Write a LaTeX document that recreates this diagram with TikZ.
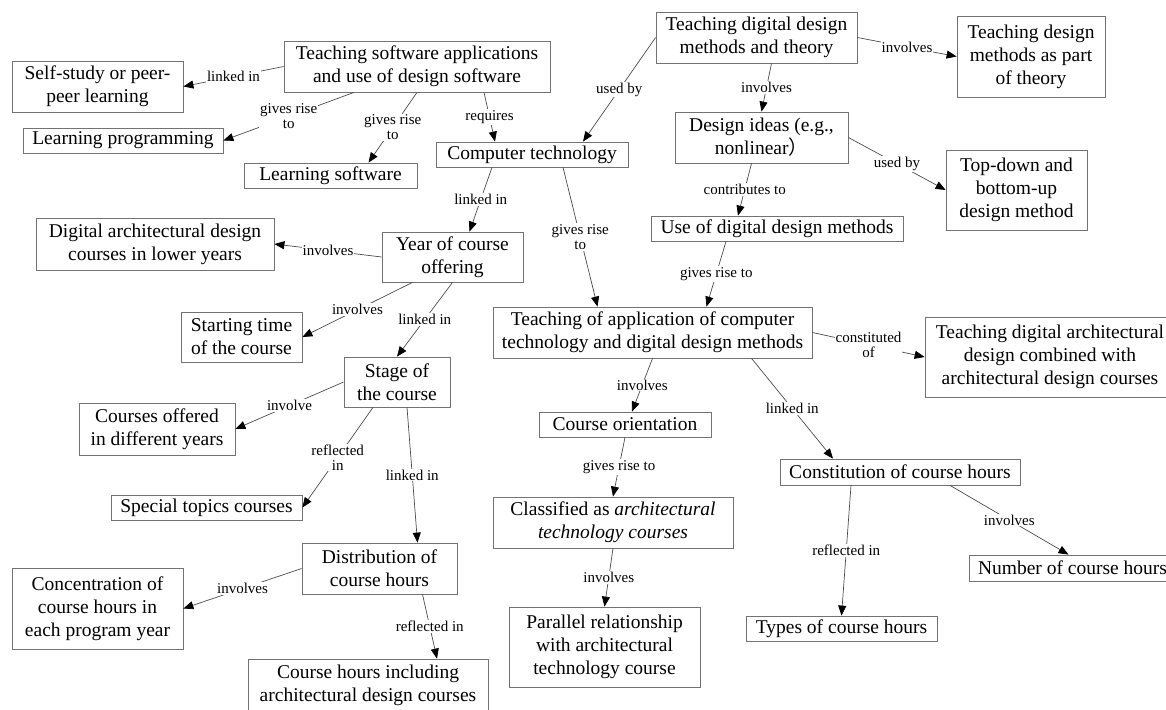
\documentclass[tikz,border=0pt]{standalone}
\usepackage{fontspec}
\setmainfont{Liberation Serif}
\newfontfamily\cjkfont{Noto Sans CJK SC}
\usetikzlibrary{arrows.meta}

\begin{document}
\begin{tikzpicture}[x=1pt,y=-1pt,
  box/.style={draw=gray!90!black,line width=0.8pt,align=center,inner xsep=2pt,inner ysep=2pt,font=\fontsize{19.5}{23}\selectfont},
  lbl/.style={fill=white,inner sep=1pt,align=center,font=\fontsize{15}{15}\selectfont},
  arr/.style={draw=gray!60!black,line width=0.7pt,-{Triangle[length=10pt,width=8pt,color=black]}}]
\useasboundingbox (0,0) rectangle (1166,709);
\node[box,minimum width=266pt,minimum height=51pt] (tsa) at (417,66.5) {Teaching software applications\\and use of design software};
\node[box,minimum width=171pt,minimum height=51pt] (self) at (97.5,86.5) {Self-study or peer-\\peer learning};
\node[box,minimum width=200pt,minimum height=25pt] (lp) at (123,140.5) {Learning programming};
\node[box,minimum width=173pt,minimum height=25pt] (lsw) at (330.5,175.5) {Learning software};
\node[box,minimum width=192pt,minimum height=25pt] (ct) at (532,154.5) {Computer technology};
\node[box,minimum width=201pt,minimum height=51pt] (tddmt) at (756.5,37.5) {Teaching digital design\\methods and theory};
\node[box,minimum width=148pt,minimum height=81pt] (tdmp) at (1031,56.5) {Teaching design\\methods as part\\of theory};
\node[box,minimum width=173pt,minimum height=51pt] (di) at (761.5,137.5) {Design ideas (e.g.,\\nonlinear{\cjkfont ）}};
\node[box,minimum width=141pt,minimum height=80pt] (td) at (1016.5,190) {Top-down and\\bottom-up\\design method};
\node[box,minimum width=252pt,minimum height=25pt] (uddm) at (777,228.5) {Use of digital design methods};
\node[box,minimum width=238pt,minimum height=52pt] (dad) at (155,244) {Digital architectural design\\courses in lower years};
\node[box,minimum width=141pt,minimum height=50pt] (yco) at (452.5,257) {Year of course\\offering};
\node[box,minimum width=121pt,minimum height=50pt] (stc) at (241.5,337) {Starting time\\of the course};
\node[box,minimum width=106pt,minimum height=50pt] (sc) at (397,382) {Stage of\\the course};
\node[box,minimum width=156pt,minimum height=52pt] (cod) at (157,429) {Courses offered\\in different years};
\node[box,minimum width=319pt,minimum height=51pt] (tac) at (652.5,332.5) {Teaching of application of computer\\technology and digital design methods};
\node[box,minimum width=250pt,minimum height=80pt] (tdc) at (1050,357) {Teaching digital architectural\\design combined with\\architectural design courses};
\node[box,minimum width=172pt,minimum height=25pt] (co) at (625,424.5) {Course orientation};
\node[box,minimum width=240pt,minimum height=26pt] (cch) at (900,472) {Constitution of course hours};
\node[box,minimum width=191pt,minimum height=25pt] (stp) at (206.5,507.5) {Special topics courses};
\node[box,minimum width=155pt,minimum height=51pt] (dch) at (379.5,568.5) {Distribution of\\course hours};
\node[box,minimum width=171pt,minimum height=81pt] (con) at (97.5,608.5) {Concentration of\\course hours in\\each program year};
\node[box,minimum width=240pt,minimum height=52pt] (chi) at (368,685) {Course hours including\\architectural design courses};
\node[box,minimum width=240pt,minimum height=51pt] (cl) at (613,522.5) {Classified as \textit{architectural}\\\textit{technology courses}};
\node[box,minimum width=191pt,minimum height=80pt] (pr) at (604.5,647) {Parallel relationship\\with architectural\\technology course};
\node[box,minimum width=191pt,minimum height=25pt] (tch) at (841.5,628.5) {Types of course hours};
\node[box,minimum width=207pt,minimum height=26pt] (nch) at (1072.5,568) {Number of course hours};
\draw[arr] (tsa.west) -- node[lbl]{linked in} (self.east);
\draw[arr] ([xshift=-63pt]tsa.south) -- node[lbl]{gives rise\\to} (lp.east);
\draw[arr] (tsa.south) -- node[lbl]{gives rise\\to} ([xshift=38pt]lsw.north);
\draw[arr] ([xshift=67pt]tsa.south) -- node[lbl]{requires} ([xshift=-37pt]ct.north);
\draw[arr] (tddmt.west) -- node[lbl]{used by} ([xshift=51pt]ct.north);
\draw[arr] ([xshift=15pt]tddmt.south) -- node[lbl]{involves} (di.north);
\draw[arr] (tddmt.east) -- node[lbl]{involves} (tdmp.west);
\draw[arr] (di.east) -- node[lbl]{used by} (td.west);
\draw[arr] ([xshift=-10pt]di.south) -- node[lbl]{contributes to} ([xshift=-39pt]uddm.north);
\draw[arr] ([xshift=-40pt]ct.south) -- node[lbl]{linked in} ([xshift=17pt]yco.north);
\draw[arr] ([xshift=31pt]ct.south) -- node[lbl]{gives rise\\to} ([xshift=-55pt]tac.north);
\draw[arr] ([xshift=-51pt]uddm.south) -- node[lbl]{gives rise to} ([xshift=54pt]tac.north);
\draw[arr] (yco.west) -- node[lbl]{involves} (dad.east);
\draw[arr] ([xshift=-40pt]yco.south) -- node[lbl]{involves} (stc.east);
\draw[arr] (yco.south) -- node[lbl]{linked in} (sc.north);
\draw[arr] (sc.west) -- node[lbl]{involve} (cod.east);
\draw[arr] ([xshift=-24pt]sc.south) -- node[lbl]{reflected\\in} (stp.east);
\draw[arr] ([xshift=10pt]sc.south) -- node[lbl]{linked in} ([xshift=38pt]dch.north);
\draw[arr] (dch.west) -- node[lbl]{involves} (con.east);
\draw[arr] ([xshift=43pt]dch.south) -- node[lbl]{reflected in} ([xshift=69pt]chi.north);
\draw[arr] (tac.east) -- node[lbl]{constituted\\of} (tdc.west);
\draw[arr] (tac.south) -- node[lbl]{involves} ([xshift=7pt]co.north);
\draw[arr] ([xshift=99pt]tac.south) -- node[lbl]{linked in} ([xshift=-67pt]cch.north);
\draw[arr] (co.south) -- node[lbl]{gives rise to} (cl.north);
\draw[arr] (cl.south) -- node[lbl]{involves} (pr.north);
\draw[arr] ([xshift=-49pt]cch.south) -- node[lbl]{reflected in} (tch.north);
\draw[arr] ([xshift=50pt]cch.south) -- node[lbl]{involves} ([xshift=-4pt]nch.north);
\end{tikzpicture}
\end{document}
